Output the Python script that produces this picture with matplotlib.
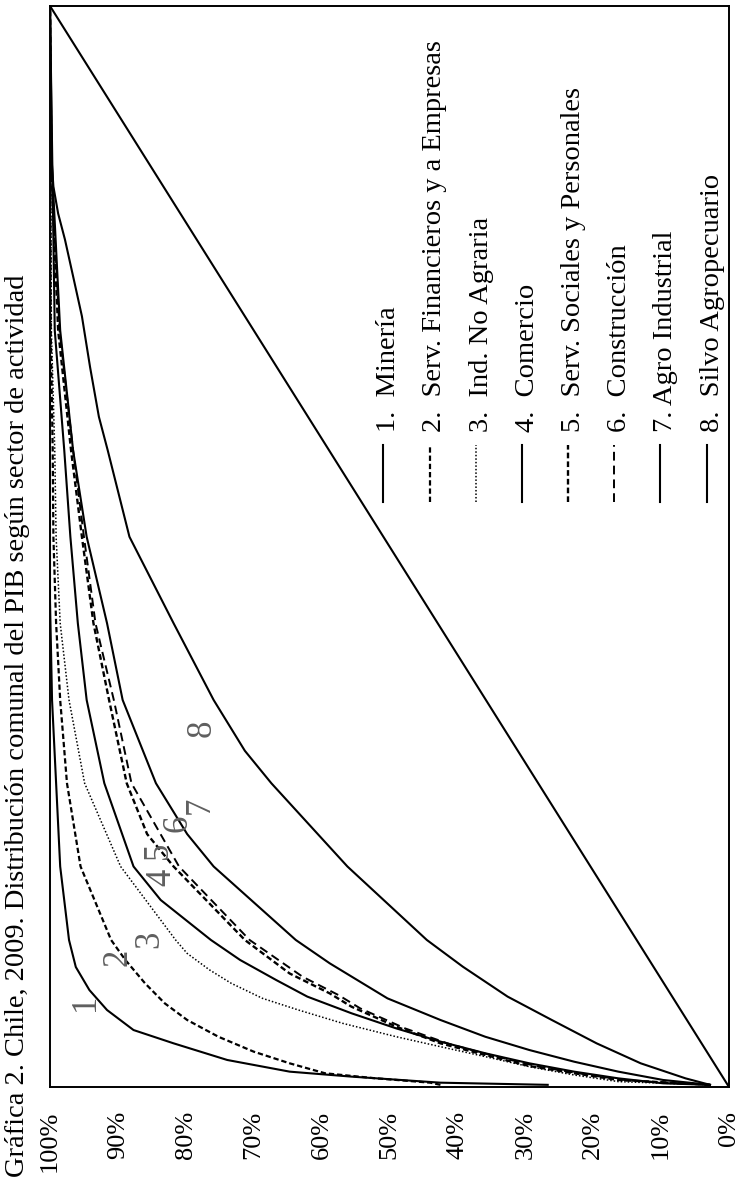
import numpy as np
import matplotlib
matplotlib.use("Agg")
import matplotlib.pyplot as plt

plt.rcParams["font.family"] = ["Liberation Serif", "DejaVu Serif"]

TITLE = "Gráfica 2. Chile, 2009. Distribución comunal del PIB según sector de actividad"

# cumulative share of communes (0-1) and cumulative share of sector GDP (%)
mineria_x = [0.002, 0.004, 0.0096, 0.0142, 0.025, 0.0404, 0.0527, 0.0712, 0.0897, 0.111, 0.136, 0.204, 0.358, 0.45, 1.0]
mineria_y = [26.7, 42.5, 55.6, 64.7, 73.9, 81.8, 87.7, 91.6, 94.2, 96.2, 97.2, 98.5, 99.7, 100, 100]

servfin_x = [0.002, 0.004, 0.0082, 0.0127, 0.0219, 0.0327, 0.0465, 0.062, 0.0774, 0.0959, 0.1175, 0.136,
             0.204, 0.281, 0.358, 0.429, 0.509, 0.589, 0.70, 1.0]
servfin_y = [42.5, 44.0, 52.3, 59.5, 64.7, 70.0, 75.2, 79.8, 83.1, 86.0, 88.9, 91.0,
             95.5, 97.5, 98.5, 99.1, 99.5, 99.6, 99.9, 100]

indnoag_x = [0.002, 0.005, 0.0111, 0.0188, 0.0281, 0.0373, 0.0465, 0.0589, 0.0712, 0.082, 0.0959, 0.1083,
             0.1236, 0.136, 0.204, 0.281, 0.358, 0.429, 0.509, 0.589, 0.70, 1.0]
indnoag_y = [2.8, 16.3, 22.8, 29.4, 35.9, 42.5, 49.0, 56.9, 63.4, 68.7, 73.3, 76.5,
             79.8, 81.5, 89.6, 94.9, 97.2, 98.5, 99.1, 99.3, 99.8, 100]

comercio_x = [0.002, 0.0034, 0.008, 0.0142, 0.0219, 0.0312, 0.042, 0.0542, 0.0682, 0.0836, 0.099, 0.1175,
              0.136, 0.173, 0.204, 0.281, 0.358, 0.429, 0.509, 0.589, 0.70, 1.0]
comercio_y = [2.8, 9.7, 16.3, 22.8, 29.4, 35.9, 42.5, 49.0, 55.6, 62.1, 66.7, 72.0,
              76.3, 83.7, 87.7, 92.0, 94.6, 95.9, 97.0, 97.9, 99.3, 100]

servsoc_x = [0.002, 0.0065, 0.0127, 0.0194, 0.0296, 0.0404, 0.0558, 0.0743, 0.0866, 0.105, 0.136,
             0.204, 0.234, 0.281, 0.358, 0.429, 0.509, 0.589, 0.70, 0.85, 1.0]
servsoc_y = [2.8, 16.3, 22.8, 29.4, 35.9, 42.5, 49.0, 55.6, 58.8, 64.7, 71.3,
             81.8, 85.7, 88.7, 91.3, 93.6, 95.3, 96.9, 98.8, 99.8, 100]

construccion_x = [0.002, 0.006, 0.012, 0.0188, 0.0287, 0.0398, 0.0542, 0.0727, 0.085, 0.102, 0.136,
                  0.204, 0.281, 0.358, 0.429, 0.509, 0.589, 0.70, 0.85, 1.0]
construccion_y = [2.8, 14.9, 21.5, 28.0, 34.6, 41.2, 47.7, 54.3, 57.5, 62.8, 70.6,
                  81.0, 88.0, 90.6, 93.3, 95.0, 96.6, 98.6, 99.8, 100]

agroind_x = [0.002, 0.0065, 0.0142, 0.0234, 0.0342, 0.0465, 0.062, 0.082, 0.1144, 0.136,
             0.204, 0.234, 0.281, 0.358, 0.429, 0.509, 0.589, 0.70, 0.85, 1.0]
agroind_y = [2.8, 9.7, 16.3, 22.8, 29.4, 35.9, 42.5, 50.3, 58.8, 63.8,
             75.9, 79.8, 84.4, 89.3, 91.6, 94.6, 96.6, 98.5, 99.7, 100]

silvo_x = [0.002, 0.008, 0.0219, 0.0404, 0.062, 0.0836, 0.1113, 0.136, 0.204, 0.281, 0.311, 0.358,
           0.429, 0.509, 0.589, 0.62, 0.666, 0.713, 0.75, 0.784, 0.808, 0.833, 0.88, 1.0]
silvo_y = [2.8, 6.4, 13.0, 19.5, 26.1, 32.6, 39.2, 44.5, 56.2, 67.4, 71.3, 75.9,
           81.8, 88.3, 91.5, 92.8, 94.1, 95.3, 96.6, 97.8, 98.8, 99.5, 100, 100]

equidad_x = [0.0, 1.0]
equidad_y = [0.0, 100.0]

sector_names = ["Minería", "Serv. Financieros y a Empresas", "Ind. No Agraria", "Comercio",
                "Serv. Sociales y Personales", "Construcción", "Agro Industrial", "Silvo Agropecuario"]
series = [(mineria_x, mineria_y), (servfin_x, servfin_y), (indnoag_x, indnoag_y),
          (comercio_x, comercio_y), (servsoc_x, servsoc_y), (construccion_x, construccion_y),
          (agroind_x, agroind_y), (silvo_x, silvo_y)]

styles = [
    dict(ls="-", lw=1.5),
    dict(ls=(0, (2.4, 1.3)), lw=1.6),
    dict(ls=(0, (1, 1.3)), lw=1.1),
    dict(ls="-", lw=1.5),
    dict(ls=(0, (2.4, 1.3)), lw=1.7),
    dict(ls=(0, (4.5, 2.6)), lw=1.4),
    dict(ls="-", lw=1.5),
    dict(ls="-", lw=1.5),
]

# where the curve numbers sit (PIB share, commune share)
num_pos = [(0.947, 0.078), (0.900, 0.120), (0.853, 0.137), (0.835, 0.194),
           (0.841, 0.219), (0.812, 0.244), (0.779, 0.261), (0.776, 0.332)]

fig = plt.figure(figsize=(7.37, 11.8), dpi=100)
ax = fig.add_axes([50 / 737, 93 / 1180, 679 / 737, 1081 / 1180])

# rotated chart: PIB share runs right-to-left, communes run upward
ax.plot(np.array(equidad_y) / 100, equidad_x, color="black", lw=1.5, solid_capstyle="butt")
for (cx, cy), st in zip(series, styles):
    ax.plot(np.array(cy) / 100, cx, color="black", **st)

for i, (px, py) in enumerate(num_pos):
    ax.text(px, py, str(i + 1), rotation=90, ha="center", va="center",
            fontsize=25, color="#5f5f5f")

ax.set_xlim(1, 0)
ax.set_ylim(0, 1)
ticks = np.arange(0, 11) / 10
ax.set_xticks(ticks)
ax.set_xticklabels([f"{int(round(t * 100))}%" for t in ticks], rotation=90, fontsize=19)
ax.tick_params(axis="x", length=0, pad=17)
ax.set_yticks([])
for sp in ax.spines.values():
    sp.set_linewidth(1.4)

# legend drawn by hand, rotated with the chart
leg_x0 = 0.491
leg_dx = 0.068
for i, (name, st) in enumerate(zip(sector_names, styles)):
    xf = leg_x0 + i * leg_dx
    ax.plot([xf, xf], [0.541, 0.594], transform=ax.transAxes, color="black",
            ls=st["ls"], lw=st["lw"], clip_on=False)
    sep = ". " if i == 6 else ".  "
    ax.text(xf + 0.008, 0.606, f"{i + 1}{sep}{name}", transform=ax.transAxes,
            rotation=90, rotation_mode="anchor", ha="left", va="center", fontsize=20.5)

fig.text(18 / 737, 3 / 1180, TITLE, rotation=90, ha="center", va="bottom", fontsize=20.5)

fig.savefig("out.png", dpi=100)
